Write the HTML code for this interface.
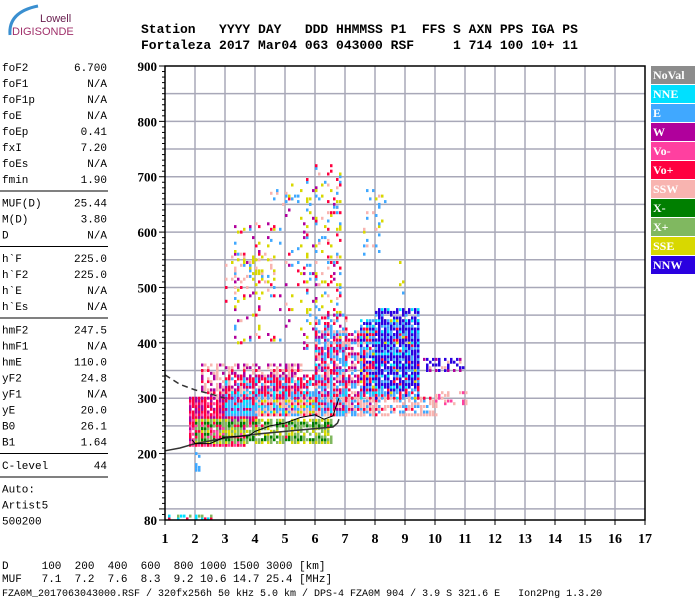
<!DOCTYPE html>
<html><head><meta charset="utf-8">
<style>
body{margin:0;background:#fff;}
#wrap{position:relative;width:700px;height:600px;overflow:hidden;background:#fff;font-family:"Liberation Mono",monospace;}
</style></head>
<body>
<div id="wrap">
<svg id="svg" width="700" height="600" xmlns="http://www.w3.org/2000/svg">
  <g>
    <path d="M10 35 Q8 12 38 6" stroke="#3a8fd0" stroke-width="3" fill="none"/>
    <text x="40" y="22" font-family="Liberation Sans,sans-serif" font-size="11" fill="#6a2050">Lowell</text>
    <text x="12" y="35" font-family="Liberation Sans,sans-serif" font-size="11" fill="#a0306a">DIGISONDE</text>
  </g>
  <g font-family="Liberation Mono,monospace" font-weight="bold" font-size="13" fill="#000">
    <text x="141" y="33" xml:space="preserve">Station   YYYY DAY   DDD HHMMSS P1  FFS S AXN PPS IGA PS</text>
    <text x="141" y="49" xml:space="preserve">Fortaleza 2017 Mar04 063 043000 RSF     1 714 100 10+ 11</text>
  </g>
  <g id="params" font-family="Liberation Mono,monospace" font-size="11" fill="#000"></g>
  <g id="grid"></g>
  <g id="dots"></g>
  <g id="curves"></g>
  <g id="axes"></g>
  <g id="legend"></g>
  <g font-family="Liberation Mono,monospace" font-size="11" fill="#000">
    <text x="2" y="569" xml:space="preserve">D     100  200  400  600  800 1000 1500 3000 [km]</text>
    <text x="2" y="582" xml:space="preserve">MUF   7.1  7.2  7.6  8.3  9.2 10.6 14.7 25.4 [MHz]</text>
    <text x="2" y="596" font-size="10" xml:space="preserve">FZA0M_2017063043000.RSF / 320fx256h 50 kHz 5.0 km / DPS-4 FZA0M 904 / 3.9 S 321.6 E   Ion2Png 1.3.20</text>
  </g>
</svg>
</div>
<script>
// --- data arrays ---
const paramNames = ["foF2","foF1","foF1p","foE","foEp","fxI","foEs","fmin","|","MUF(D)","M(D)","D","|","h`F","h`F2","h`E","h`Es","|","hmF2","hmF1","hmE","yF2","yF1","yE","B0","B1","|","C-level","|","Auto:","Artist5","500200"];
const paramValues = ["6.700","N/A","N/A","N/A","0.41","7.20","N/A","1.90","","25.44","3.80","N/A","","225.0","225.0","N/A","N/A","","247.5","N/A","110.0","24.8","N/A","20.0","26.1","1.64","","44","","","",""];
const xTicks = [1,2,3,4,5,6,7,8,9,10,11,12,13,14,15,16,17];
const yTicks = [80,200,300,400,500,600,700,800,900];
const legendNames = ["NoVal","NNE","E","W","Vo-","Vo+","SSW","X-","X+","SSE","NNW"];
const legendColors = ["#8c8c8c","#00e0ff","#40a8ff","#b0009c","#ff40a0","#ff0040","#f8b4b0","#007f00","#80b860","#d8d800","#2a00e0"];
// echo clusters: freq range (MHz), height range (km), density, color indices
const clF0 = [1.8,1.8,2.0,3.0,2.2,3.0,4.0,6.0,7.5,8.0,9.6,7.0,10.0,3.0,5.0,5.9,3.2,4.5,2.5,1.1,1.9,6.0,7.6,8.8];
const clF1 = [3.6,4.0,6.5,7.0,5.5,6.0,6.8,8.0,9.4,9.4,10.9,10.0,11.0,4.8,6.8,6.8,4.6,5.6,6.5,2.6,2.1,7.0,8.3,9.1];
const clH0 = [215,250,220,270,300,290,270,270,300,320,350,270,290,400,380,450,490,640,230,82,170,300,560,480];
const clH1 = [270,300,260,310,360,340,300,420,440,460,370,300,310,620,700,720,560,700,250,90,200,450,680,560];
const clD  = [0.95,0.9,0.7,0.95,0.65,0.6,0.6,0.7,0.8,0.6,0.6,0.55,0.4,0.1,0.12,0.12,0.18,0.1,0.5,0.6,0.25,0.45,0.12,0.08];
const clC  = [[5,5,3,4],[3,3,5,4],[5,8,9,7],[2,2,1,3],[3,3,5,6],[2,3,5,1],[2,6,5,9],[2,1,5,3,6],[2,10,1,2,9,5],[10,2,10,1],[10,10,3,6],[6,6,2,5],[6,6,6,4],[9,2,6,5,3],[2,5,9,6,3],[5,2,9,6,3],[9,9,2,6],[9,6,2,5],[9,8,7,9],[1,5,8,7],[2,2],[5,3,2,6],[9,6,2],[6,9,2]];
// profile curves (MHz, km)
const lowerF = [1.0,1.5,2.0,3.0,4.0,5.0,6.0,6.6,6.75,6.8];
const lowerH = [205,210,218,228,235,240,245,248,255,262];
const dashF = [1.0,1.5,2.0,2.5,3.0];
const dashH = [342,325,315,308,300];
const traceF = [1.9,2.0,2.5,2.8,3.0,3.8,4.0,4.5,5.0,5.5,6.0,6.3,6.6,6.8];
const traceH = [225,218,218,225,230,232,240,250,255,265,270,262,268,300];

// --- axis functions ---
const X0=165,X1=645,Y0=66,Y1=520;
const xs = f => X0 + (f-1)*(X1-X0)/16;
const ys = h => Y1 - (h-80)*(Y1-Y0)/820;
const NS="http://www.w3.org/2000/svg";
function mk(tag, parent, attrs){const e=document.createElementNS(NS,tag);for(const k in attrs)e.setAttribute(k,attrs[k]);parent.appendChild(e);return e;}

// params
const pg=document.getElementById('params');
let py=71;
paramNames.forEach((n,i)=>{
  if(n==="|"){
    const l=mk('line',pg,{x1:0,x2:108,y1:py-8,y2:py-8,stroke:'#000','stroke-width':1});
    
    
    py+=7.5; return;
  }
  const t=mk('text',pg,{x:2,y:py});t.textContent=n;
  
  
  if(paramValues[i]){
    const v=mk('text',pg,{x:107,y:py,'text-anchor':'end'});v.textContent=paramValues[i];
    
    
  }
  py+=16;
});

// grid
const gg=document.getElementById('grid');
for(let f=2;f<=16;f++){const l=mk('line',gg,{x1:xs(f),x2:xs(f),y1:Y0,y2:Y1,stroke:'#a8a8b8','stroke-width':1.5});
  }
for(let h=100;h<900;h+=50){const l=mk('line',gg,{x1:X0,x2:X1,y1:ys(h),y2:ys(h),stroke:'#a8a8b8','stroke-width':1.5});
  }

// dots
const dg=document.getElementById('dots');
clF0.forEach((f0,c)=>{
  const cols=clC[c];
  let i=0;
  for(let f=f0; f<=clF1[c]+1e-6; f+=0.1, i++){
    let j=0;
    for(let h=clH0[c]; h<=clH1[c]; h+=5, j++){
      const k=(i*i*7 + j*j*3 + i*j*5 + j*31 + i*17 + c*11) % 40;
      if(k/40 >= clD[c]) continue;
      const col=legendColors[cols[(i*3+j*j+k)%cols.length]];
      const r=mk('rect',dg,{x:xs(f).toFixed(1),y:(ys(h)-1.5).toFixed(1),width:2.5,height:3,fill:col});
      
      
    }
  }
});

// curves
const cg=document.getElementById('curves');
const pts=(F,H)=>F.map((f,i)=>xs(f).toFixed(1)+','+ys(H[i]).toFixed(1)).join(' ');
let p=mk('polyline',cg,{points:pts(lowerF,lowerH),fill:'none',stroke:'#333','stroke-width':1.5});

p=mk('polyline',cg,{points:pts(dashF,dashH),fill:'none',stroke:'#333','stroke-width':1.5,'stroke-dasharray':'6,4'});

p=mk('polyline',cg,{points:pts(traceF,traceH),fill:'none',stroke:'#000','stroke-width':1});


// axes
const ag=document.getElementById('axes');
let fr=mk('rect',ag,{x:X0,y:Y0,width:X1-X0,height:Y1-Y0,fill:'none',stroke:'#000','stroke-width':1.5});

for(let h=80;h<=900;h+=10){const l=mk('line',ag,{x1:X0-(h%100===0||h===80?6:3),x2:X0,y1:ys(h),y2:ys(h),stroke:'#000'});
  }
yTicks.forEach(h=>{const t=mk('text',ag,{x:X0-8,y:ys(h)+5,'text-anchor':'end','font-family':'Liberation Serif,serif','font-weight':'bold','font-size':13});t.textContent=h;
  });
xTicks.forEach(f=>{const l=mk('line',ag,{x1:xs(f),x2:xs(f),y1:Y1,y2:Y1+5,stroke:'#000'});
  
  const t=mk('text',ag,{x:xs(f),y:Y1+23,'text-anchor':'middle','font-family':'Liberation Serif,serif','font-weight':'bold','font-size':14});t.textContent=f;
  });

// legend
const lg=document.getElementById('legend');
legendNames.forEach((n,i)=>{
  const y=66+i*19;
  const r=mk('rect',lg,{x:651,y:y,width:44,height:18,fill:legendColors[i]});
  
  const t=mk('text',lg,{x:653,y:y+13,'font-family':'Liberation Serif,serif','font-weight':'bold','font-size':12,fill:'#fff'});t.textContent=n;
  
});
</script>
</body></html>
